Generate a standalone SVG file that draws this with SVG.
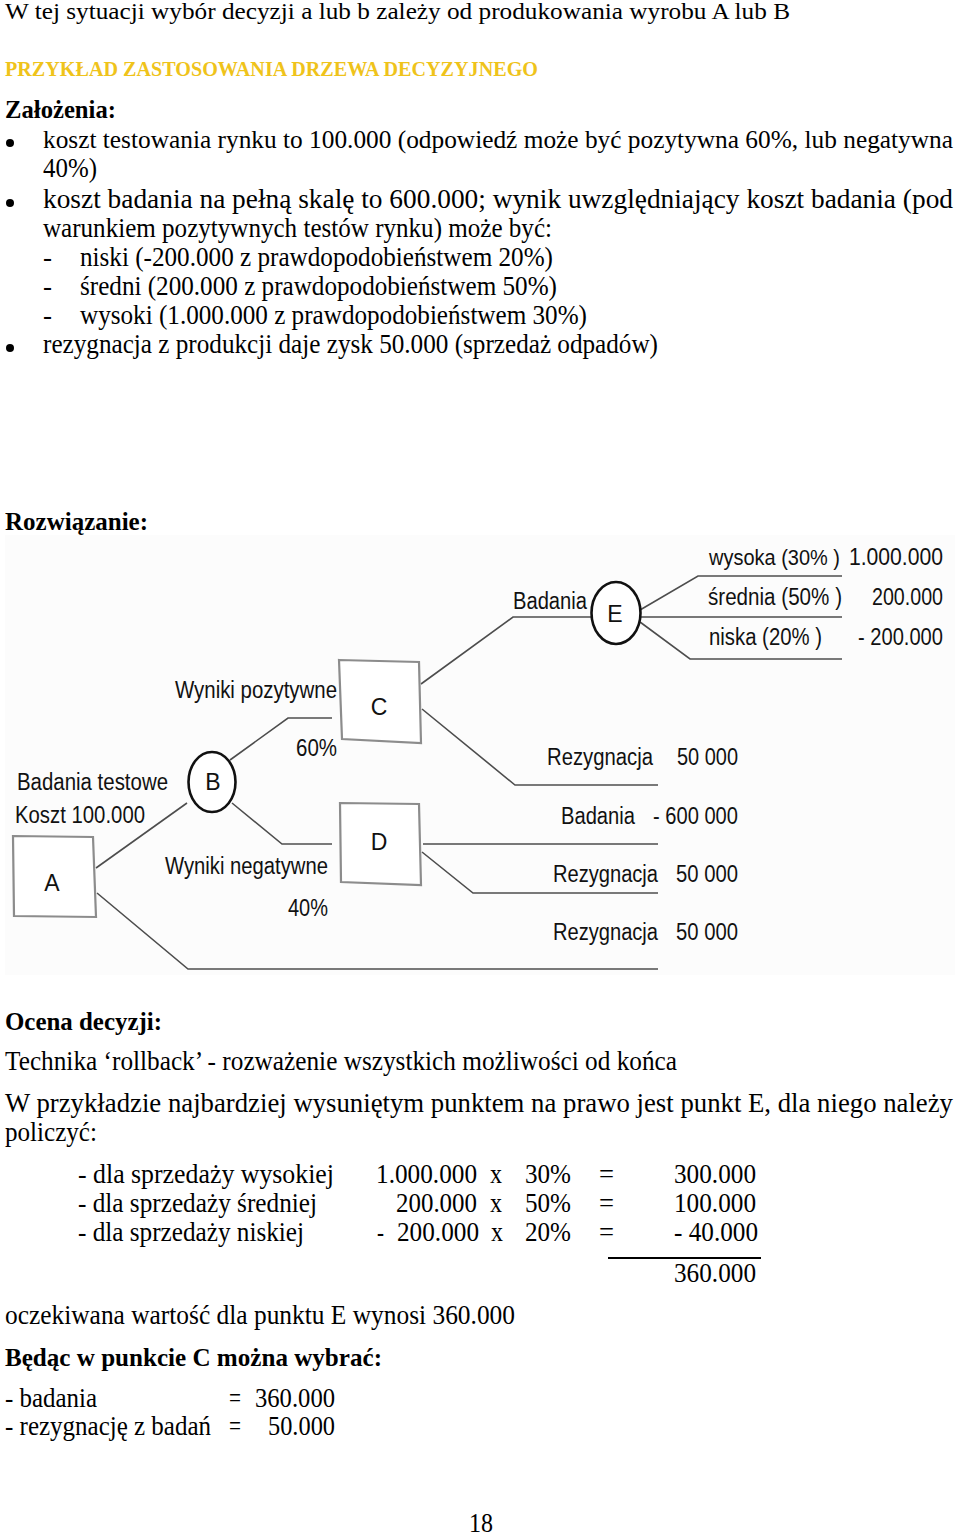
<svg xmlns="http://www.w3.org/2000/svg" width="960" height="1536" viewBox="0 0 960 1536">
<style>
.t{font-family:"Liberation Serif","Times New Roman",serif;font-size:27px;fill:#000}
.s23{font-size:24px}
.s25{font-size:25px}
.b{font-weight:bold;font-size:26px}
.y{fill:#EFC31A;font-size:20px}
.d{font-family:"Liberation Sans",Arial,sans-serif;font-size:23px;fill:#111}
.sm{font-size:21.5px}
.n{font-family:"Liberation Sans",Arial,sans-serif;font-size:23px;fill:#111;text-anchor:middle}
.box{fill:#fff;stroke:#8c8c8c;stroke-width:2.2}
.chance{fill:#fff;stroke:#111;stroke-width:2.6}
.con{fill:none;stroke:#4d4d4d;stroke-width:1.6}
</style>
<rect width="960" height="1536" fill="#fff"/>
<g id="text-top">
<text class="t s23" x="5" y="19" textLength="785" lengthAdjust="spacingAndGlyphs">W tej sytuacji wybór decyzji a lub b zależy od produkowania wyrobu A lub B</text>
<text class="t b y" x="5" y="76" textLength="533" lengthAdjust="spacingAndGlyphs">PRZYKŁAD ZASTOSOWANIA DRZEWA DECYZYJNEGO</text>
<text class="t b" x="5" y="118" textLength="111" lengthAdjust="spacingAndGlyphs">Założenia:</text>
<circle cx="10" cy="143" r="4" fill="#000"/>
<text class="t s25" x="43" y="148" textLength="910" lengthAdjust="spacingAndGlyphs">koszt testowania rynku to 100.000 (odpowiedź może być pozytywna  60%, lub negatywna</text>
<text class="t" x="43" y="177" textLength="54" lengthAdjust="spacingAndGlyphs">40%)</text>
<circle cx="10" cy="203" r="4" fill="#000"/>
<text class="t" x="43" y="208" textLength="910" lengthAdjust="spacingAndGlyphs">koszt badania na pełną skalę to 600.000; wynik uwzględniający koszt badania (pod</text>
<text class="t" x="43" y="237" textLength="509" lengthAdjust="spacingAndGlyphs">warunkiem pozytywnych testów rynku) może być:</text>
<text class="t" x="43" y="266">-</text>
<text class="t" x="80" y="266" textLength="473" lengthAdjust="spacingAndGlyphs">niski (-200.000 z prawdopodobieństwem 20%)</text>
<text class="t" x="43" y="295">-</text>
<text class="t" x="80" y="295" textLength="477" lengthAdjust="spacingAndGlyphs">średni (200.000 z prawdopodobieństwem 50%)</text>
<text class="t" x="43" y="324">-</text>
<text class="t" x="80" y="324" textLength="507" lengthAdjust="spacingAndGlyphs">wysoki (1.000.000 z prawdopodobieństwem 30%)</text>
<circle cx="10" cy="348" r="4" fill="#000"/>
<text class="t" x="43" y="353" textLength="615" lengthAdjust="spacingAndGlyphs">rezygnacja z produkcji daje zysk 50.000 (sprzedaż odpadów)</text>
<text class="t b" x="5" y="530" textLength="143" lengthAdjust="spacingAndGlyphs">Rozwiązanie:</text>
</g>
<rect x="5" y="535" width="950" height="440" fill="#fcfcfc"/>
<g id="connectors">
<polyline class="con" points="96,868 187,803"/>
<polyline class="con" points="97,893 188,969 658,969"/>
<polyline class="con" points="230,760 288,718 332,718"/>
<polyline class="con" points="232,803 282,844 332,844"/>
<polyline class="con" points="421,684 513,617 591,617"/>
<polyline class="con" points="422,709 515,785 658,785"/>
<polyline class="con" points="423,844 658,844"/>
<polyline class="con" points="422,852 473,893 658,893"/>
<polyline class="con" points="640,610 698,576 842,576"/>
<polyline class="con" points="641,617 842,617"/>
<polyline class="con" points="640,622 690,659 842,659"/>
</g>
<g id="node-A">
<polygon class="box" points="13,836 93,837 96,917 14,916"/>
<text class="n" x="52" y="891">A</text>
</g>
<g id="node-B">
<ellipse class="chance" cx="212" cy="782" rx="23.5" ry="30"/>
<text class="n" x="213" y="790">B</text>
</g>
<g id="node-C">
<polygon class="box" points="339,660 419,662 421,743 342,739"/>
<text class="n" x="379" y="715">C</text>
</g>
<g id="node-D">
<polygon class="box" points="340,803 419,804 421,885 341,882"/>
<text class="n" x="379" y="850">D</text>
</g>
<g id="node-E">
<ellipse class="chance" cx="616" cy="613" rx="24.5" ry="31"/>
<text class="n" x="615" y="622">E</text>
</g>
<g id="labels">
<text class="d" x="175" y="698" textLength="162" lengthAdjust="spacingAndGlyphs">Wyniki pozytywne</text>
<text class="d" x="296" y="756" textLength="41" lengthAdjust="spacingAndGlyphs">60%</text>
<text class="d" x="17" y="790" textLength="151" lengthAdjust="spacingAndGlyphs">Badania testowe</text>
<text class="d" x="15" y="823" textLength="130" lengthAdjust="spacingAndGlyphs">Koszt 100.000</text>
<text class="d" x="165" y="874" textLength="163" lengthAdjust="spacingAndGlyphs">Wyniki negatywne</text>
<text class="d" x="288" y="916" textLength="40" lengthAdjust="spacingAndGlyphs">40%</text>
<text class="d" x="513" y="609" textLength="74" lengthAdjust="spacingAndGlyphs">Badania</text>
<text class="d sm" x="709" y="565" textLength="131" lengthAdjust="spacingAndGlyphs">wysoka (30% )</text>
<text class="d" x="849" y="565" textLength="94" lengthAdjust="spacingAndGlyphs">1.000.000</text>
<text class="d" x="708" y="605" textLength="134" lengthAdjust="spacingAndGlyphs">średnia (50% )</text>
<text class="d" x="872" y="605" textLength="71" lengthAdjust="spacingAndGlyphs">200.000</text>
<text class="d" x="709" y="645" textLength="113" lengthAdjust="spacingAndGlyphs">niska (20% )</text>
<text class="d" x="858" y="645" textLength="85" lengthAdjust="spacingAndGlyphs">- 200.000</text>
<text class="d" x="547" y="765" textLength="106" lengthAdjust="spacingAndGlyphs">Rezygnacja</text>
<text class="d" x="677" y="765" textLength="61" lengthAdjust="spacingAndGlyphs">50 000</text>
<text class="d" x="561" y="824" textLength="74" lengthAdjust="spacingAndGlyphs">Badania</text>
<text class="d" x="653" y="824" textLength="85" lengthAdjust="spacingAndGlyphs">- 600 000</text>
<text class="d" x="553" y="882" textLength="105" lengthAdjust="spacingAndGlyphs">Rezygnacja</text>
<text class="d" x="676" y="882" textLength="62" lengthAdjust="spacingAndGlyphs">50 000</text>
<text class="d" x="553" y="940" textLength="105" lengthAdjust="spacingAndGlyphs">Rezygnacja</text>
<text class="d" x="676" y="940" textLength="62" lengthAdjust="spacingAndGlyphs">50 000</text>
</g>
<g id="text-bottom">
<text class="t b" x="5" y="1030" textLength="157" lengthAdjust="spacingAndGlyphs">Ocena decyzji:</text>
<text class="t" x="5" y="1070" textLength="672" lengthAdjust="spacingAndGlyphs">Technika ‘rollback’ - rozważenie wszystkich możliwości od końca</text>
<text class="t" x="5" y="1112" textLength="948" lengthAdjust="spacingAndGlyphs">W przykładzie najbardziej wysuniętym punktem na prawo jest punkt E, dla niego należy</text>
<text class="t" x="5" y="1141" textLength="92" lengthAdjust="spacingAndGlyphs">policzyć:</text>
<text class="t" x="78" y="1183" textLength="256" lengthAdjust="spacingAndGlyphs">- dla sprzedaży  wysokiej</text>
<text class="t" x="376" y="1183" textLength="101" lengthAdjust="spacingAndGlyphs">1.000.000</text>
<text class="t" x="490" y="1183" textLength="12" lengthAdjust="spacingAndGlyphs">x</text>
<text class="t" x="525" y="1183" textLength="46" lengthAdjust="spacingAndGlyphs">30%</text>
<text class="t" x="599" y="1183" textLength="15" lengthAdjust="spacingAndGlyphs">=</text>
<text class="t" x="674" y="1183" textLength="82" lengthAdjust="spacingAndGlyphs">300.000</text>
<text class="t" x="78" y="1212" textLength="239" lengthAdjust="spacingAndGlyphs">- dla sprzedaży średniej</text>
<text class="t" x="396" y="1212" textLength="81" lengthAdjust="spacingAndGlyphs">200.000</text>
<text class="t" x="490" y="1212" textLength="12" lengthAdjust="spacingAndGlyphs">x</text>
<text class="t" x="525" y="1212" textLength="46" lengthAdjust="spacingAndGlyphs">50%</text>
<text class="t" x="599" y="1212" textLength="15" lengthAdjust="spacingAndGlyphs">=</text>
<text class="t" x="674" y="1212" textLength="82" lengthAdjust="spacingAndGlyphs">100.000</text>
<text class="t" x="78" y="1241" textLength="226" lengthAdjust="spacingAndGlyphs">- dla sprzedaży niskiej</text>
<text class="t" x="377" y="1241" textLength="7" lengthAdjust="spacingAndGlyphs">-</text>
<text class="t" x="397" y="1241" textLength="82" lengthAdjust="spacingAndGlyphs">200.000</text>
<text class="t" x="491" y="1241" textLength="12" lengthAdjust="spacingAndGlyphs">x</text>
<text class="t" x="525" y="1241" textLength="46" lengthAdjust="spacingAndGlyphs">20%</text>
<text class="t" x="599" y="1241" textLength="15" lengthAdjust="spacingAndGlyphs">=</text>
<text class="t" x="674" y="1241" textLength="84" lengthAdjust="spacingAndGlyphs">- 40.000</text>
<line x1="608" y1="1258" x2="761" y2="1258" stroke="#000" stroke-width="2"/>
<text class="t" x="674" y="1282" textLength="82" lengthAdjust="spacingAndGlyphs">360.000</text>
<text class="t" x="5" y="1324" textLength="510" lengthAdjust="spacingAndGlyphs">oczekiwana wartość dla punktu E wynosi  360.000</text>
<text class="t b" x="5" y="1366" textLength="377" lengthAdjust="spacingAndGlyphs">Będąc w punkcie C można wybrać:</text>
<text class="t" x="5" y="1407" textLength="92" lengthAdjust="spacingAndGlyphs">- badania</text>
<text class="t" x="229" y="1407" textLength="12" lengthAdjust="spacingAndGlyphs">=</text>
<text class="t" x="255" y="1407" textLength="80" lengthAdjust="spacingAndGlyphs">360.000</text>
<text class="t" x="5" y="1435" textLength="206" lengthAdjust="spacingAndGlyphs">- rezygnację z badań</text>
<text class="t" x="229" y="1435" textLength="12" lengthAdjust="spacingAndGlyphs">=</text>
<text class="t" x="268" y="1435" textLength="67" lengthAdjust="spacingAndGlyphs">50.000</text>
<text class="t" x="469" y="1532" textLength="24" lengthAdjust="spacingAndGlyphs">18</text>
</g>
</svg>
